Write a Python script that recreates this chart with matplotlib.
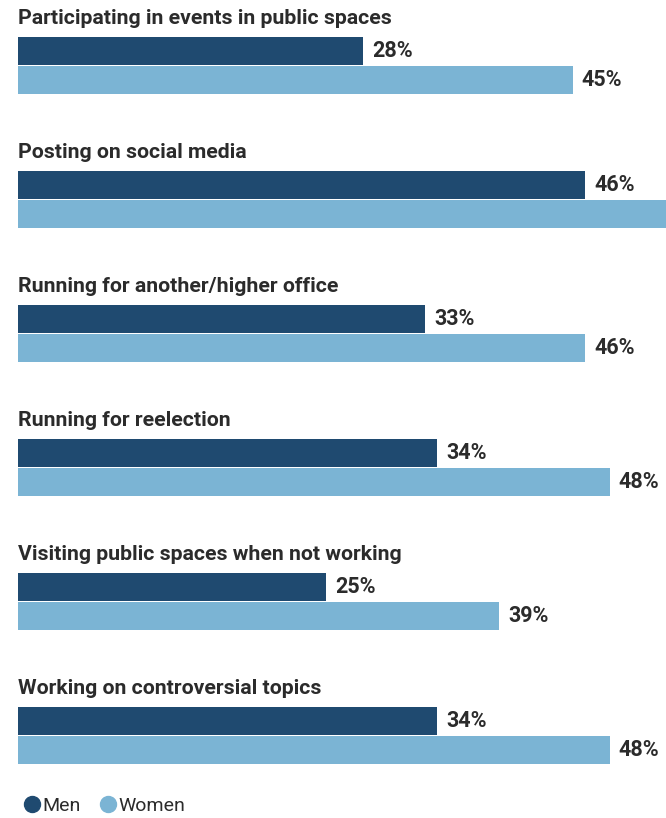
import matplotlib
matplotlib.use("Agg")
import matplotlib.pyplot as plt
from matplotlib.lines import Line2D

# Share of officials who say they are less willing to do each activity
categories = [
    "Participating in events in public spaces",
    "Posting on social media",
    "Running for another/higher office",
    "Running for reelection",
    "Visiting public spaces when not working",
    "Working on controversial topics",
]
men = [28, 46, 33, 34, 25, 34]
women = [45, 56, 46, 48, 39, 48]

MEN_COLOR = "#1f4a70"
WOMEN_COLOR = "#7bb4d4"
TEXT_COLOR = "#2b2b2b"

plt.rcParams["font.family"] = ["Roboto", "DejaVu Sans"]

W, H = 666, 818
fig = plt.figure(figsize=(W / 100, H / 100), dpi=100)
fig.patch.set_facecolor("white")

# one y unit = one category block (134 px), x unit = percent (~12.33 px)
left_px = 18
px_per_pct = 12.33
group_px = 134
top_px = 18
ax = fig.add_axes([left_px / W, 0, 1 - left_px / W, 1])
ax.set_xlim(0, (W - left_px) / px_per_pct)
ax.set_ylim((H - top_px) / group_px, -top_px / group_px)
ax.axis("off")

men_off = 33 / group_px
women_off = 62 / group_px
bar_h = 27.5 / group_px

for i, (cat, m, w) in enumerate(zip(categories, men, women)):
    ax.text(0, i, cat, ha="left", va="center", fontsize=15.3,
            fontweight="bold", color=TEXT_COLOR)
    ax.barh(i + men_off, m, height=bar_h, color=MEN_COLOR, align="center")
    ax.barh(i + women_off, w, height=bar_h, color=WOMEN_COLOR, align="center")
    for val, off in ((m, men_off), (w, women_off)):
        ax.annotate(f"{val}%", xy=(val, i + off), xytext=(6.5, 0),
                    textcoords="offset points", ha="left", va="center",
                    fontsize=15.5, fontweight="bold", color=TEXT_COLOR,
                    annotation_clip=False)

handles = [
    Line2D([], [], marker="o", linestyle="none", markersize=11.5,
           markerfacecolor=MEN_COLOR, markeredgecolor=MEN_COLOR, label="Men"),
    Line2D([], [], marker="o", linestyle="none", markersize=11.5,
           markerfacecolor=WOMEN_COLOR, markeredgecolor=WOMEN_COLOR, label="Women"),
]
leg = ax.legend(handles=handles, loc="lower left", bbox_to_anchor=(-0.012, -0.013),
                ncol=2, frameon=False, handlelength=0.8, handletextpad=0.15,
                columnspacing=1.0, borderpad=0.2, fontsize=14)
for t in leg.get_texts():
    t.set_color(TEXT_COLOR)

fig.savefig("out.png", dpi=100)
